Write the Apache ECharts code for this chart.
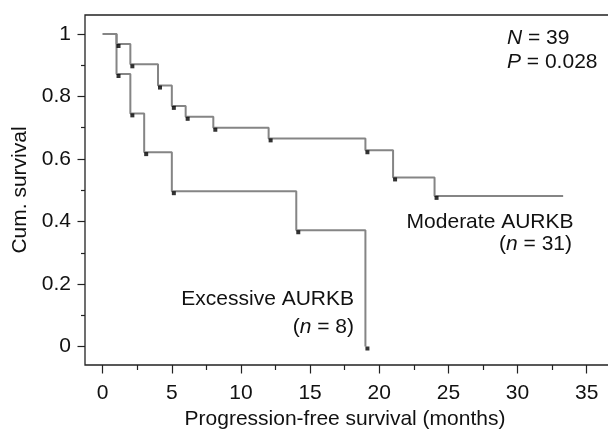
<!DOCTYPE html>
<html>
<head>
<meta charset="utf-8">
<script src="https://cdn.jsdelivr.net/npm/echarts@6/dist/echarts.min.js"></script>
<style>
html,body{margin:0;padding:0;background:#fff;}
#c{width:608px;height:429px;}
</style>
</head>
<body>
<div id="c"></div>
<script>
// Data
var moderateTimes  = [0, 1, 2, 4, 5, 6, 8, 12, 19, 21, 24, 33.3];
var moderateSurv   = [1, 0.968, 0.903, 0.835, 0.770, 0.735, 0.700, 0.666, 0.628, 0.541, 0.482, 0.482];
var excessiveTimes = [0, 1, 2, 3, 5, 14, 19];
var excessiveSurv  = [1, 0.872, 0.746, 0.622, 0.497, 0.372, 0];
var xMajorTicks = [0, 5, 10, 15, 20, 25, 30, 35];
var xMinorTicks = [2.5, 7.5, 12.5, 17.5, 22.5, 27.5, 32.5];
var yMajorTicks = [0, 0.2, 0.4, 0.6, 0.8, 1];
var yMinorTicks = [0.1, 0.3, 0.5, 0.7, 0.9];
var yLabels = {0: '0', 0.2: '0.2', 0.4: '0.4', 0.6: '0.6', 0.8: '0.8', 1: '1'};

function pairs(t, s) { return t.map(function (v, i) { return [v, s[i]]; }); }
// event marks: all points except the starting point and final censored end
var moderateLine = pairs(moderateTimes, moderateSurv);
var moderateMarks = moderateLine.slice(1, moderateLine.length - 1);
var excessiveLine = pairs(excessiveTimes, excessiveSurv);
var excessiveMarks = excessiveLine.slice(1);

var FONT = 'Liberation Sans, Arial, Helvetica, sans-serif';
var FS = 21;
var xMin = -1.28, xMax = 37.05;
var yMin = -0.0592, yMax = 1.0608;

var chart = echarts.init(document.getElementById('c'), null, {renderer: 'canvas'});
var axisCommonX = {
  type: 'value', min: xMin, max: xMax, position: 'bottom',
  axisLine: {show: false, onZero: false}, splitLine: {show: false}
};
var axisCommonY = {
  type: 'value', min: yMin, max: yMax, position: 'left',
  axisLine: {show: false, onZero: false}, splitLine: {show: false}
};
chart.setOption({
  animation: false,
  backgroundColor: '#fff',
  grid: {left: 85, top: 15, width: 530, height: 350, show: true, outerBoundsMode: 'none',
         borderColor: '#222', borderWidth: 1.3, backgroundColor: 'transparent', containLabel: false},
  xAxis: [
    Object.assign({}, axisCommonX, {
      axisTick: {show: true, customValues: xMajorTicks, length: 8.5, lineStyle: {color: '#222', width: 1.2}},
      axisLabel: {show: true, customValues: xMajorTicks, margin: 18, color: '#111', fontSize: FS, fontFamily: FONT},
      name: 'Progression-free survival (months)', nameLocation: 'middle', nameGap: 43,
      nameTextStyle: {color: '#111', fontSize: FS, fontFamily: FONT, padding: [0, 10, 0, 0]}
    }),
    Object.assign({}, axisCommonX, {
      axisTick: {show: true, customValues: xMinorTicks, length: 5, lineStyle: {color: '#222', width: 1.2}},
      axisLabel: {show: false}
    })
  ],
  yAxis: [
    Object.assign({}, axisCommonY, {
      axisTick: {show: true, customValues: yMajorTicks, length: 7.5, lineStyle: {color: '#222', width: 1.2}},
      axisLabel: {show: true, customValues: yMajorTicks, margin: 14, color: '#111', fontSize: FS, fontFamily: FONT,
        formatter: function (v) { var k = Math.round(v * 10) / 10; return yLabels[k] !== undefined ? yLabels[k] : String(k); }},
      name: 'Cum. survival', nameLocation: 'middle', nameGap: 54, nameRotate: 90,
      nameTextStyle: {color: '#111', fontSize: FS, fontFamily: FONT}
    }),
    Object.assign({}, axisCommonY, {
      axisTick: {show: true, customValues: yMinorTicks, length: 4, lineStyle: {color: '#222', width: 1.2}},
      axisLabel: {show: false}
    })
  ],
  series: [
    {type: 'line', step: 'end', data: moderateLine, showSymbol: false, symbol: 'none',
     lineStyle: {color: '#858585', width: 2}, z: 2},
    {type: 'line', step: 'end', data: excessiveLine, showSymbol: false, symbol: 'none',
     lineStyle: {color: '#858585', width: 2}, z: 2},
    {type: 'scatter', data: moderateMarks, symbol: 'rect', symbolSize: 4, symbolOffset: [2, 2],
     itemStyle: {color: '#000'}, z: 3},
    {type: 'scatter', data: excessiveMarks, symbol: 'rect', symbolSize: 4, symbolOffset: [2, 2],
     itemStyle: {color: '#000'}, z: 3}
  ],
  graphic: [
    {type: 'text', left: 507, top: 28, style: {text: '{i|N} = 39', fill: '#111', font: FS + 'px ' + FONT,
      rich: {i: {fontStyle: 'italic', fontSize: FS, fontFamily: FONT, fill: '#111'}}}},
    {type: 'text', left: 507, top: 52, style: {text: '{i|P} = 0.028', fill: '#111', font: FS + 'px ' + FONT,
      rich: {i: {fontStyle: 'italic', fontSize: FS, fontFamily: FONT, fill: '#111'}}}},
    {type: 'text', right: 608 - 573.5, top: 212, style: {text: 'Moderate AURKB', fill: '#111', font: FS + 'px ' + FONT}},
    {type: 'text', right: 608 - 572, top: 234, style: {text: '({i|n} = 31)', fill: '#111', font: FS + 'px ' + FONT,
      rich: {i: {fontStyle: 'italic', fontSize: FS, fontFamily: FONT, fill: '#111'}}}},
    {type: 'text', right: 608 - 354, top: 289, style: {text: 'Excessive AURKB', fill: '#111', font: FS + 'px ' + FONT}},
    {type: 'text', right: 608 - 354, top: 317, style: {text: '({i|n} = 8)', fill: '#111', font: FS + 'px ' + FONT,
      rich: {i: {fontStyle: 'italic', fontSize: FS, fontFamily: FONT, fill: '#111'}}}}
  ]
});
</script>
</body>
</html>
